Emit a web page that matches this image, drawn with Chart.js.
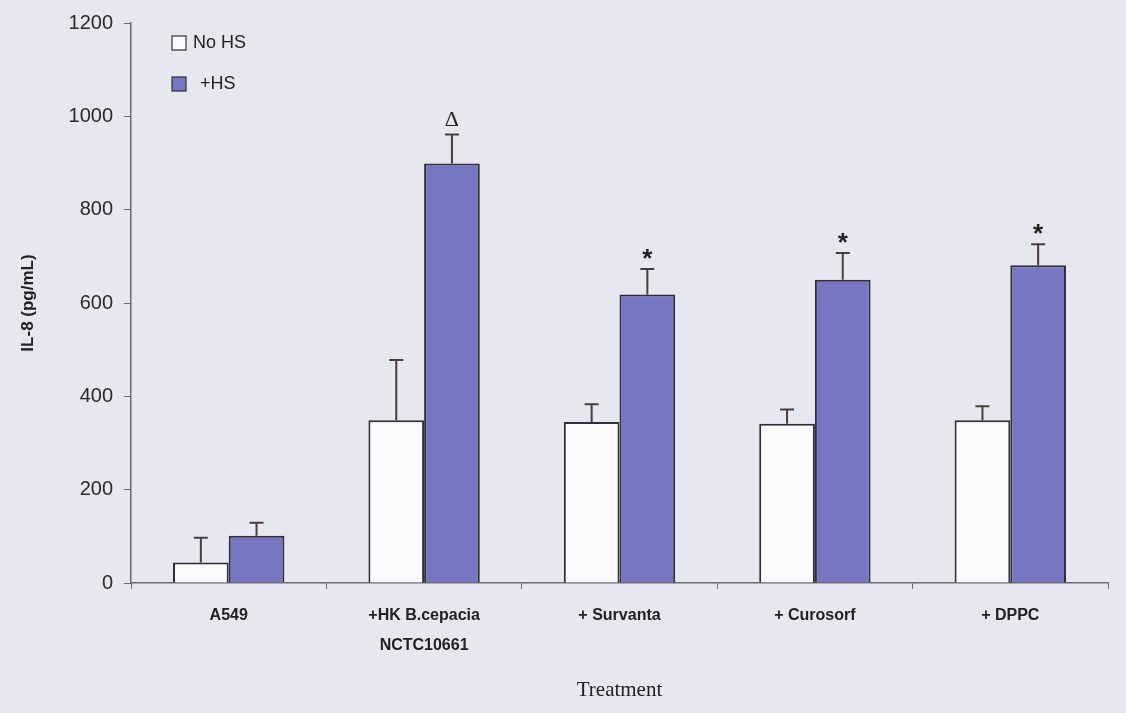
<!DOCTYPE html>
<html>
<head>
<meta charset="utf-8">
<script src="https://cdn.jsdelivr.net/npm/chart.js@4/dist/chart.umd.min.js"></script>
<style>
  html, body { margin: 0; padding: 0; background: #e7e7ef; }
  #wrap { width: 1126px; height: 713px; position: relative; }
</style>
</head>
<body>
<div id="wrap"><canvas id="il8Chart" width="1126" height="713"></canvas></div>
<script>
// --- data ---
const categories = ['A549', ['+HK B.cepacia', 'NCTC10661'], '+ Survanta', '+ Curosorf', '+ DPPC'];
const noHsValues = [44, 349, 345, 341, 349];
const noHsErrors = [53, 129, 38, 31, 30];
const hsValues = [101, 899, 618, 650, 681];
const hsErrors = [28, 62, 55, 57, 45];
const hsMarks = ['', 'Δ', '*', '*', '*'];
const yTicks = [0, 200, 400, 600, 800, 1000, 1200];

const inkColor = '#2f2f38';
const purple = '#7776c2';

// error bars (upper half only) + significance marks
const errorBarPlugin = {
    id: 'errorBars',
    afterDatasetsDraw(chart) {
        const ctx = chart.ctx;
        const yScale = chart.scales.y;
        ctx.save();
        ctx.strokeStyle = '#4a3c3c';
        ctx.lineWidth = 2;
        chart.data.datasets.forEach((ds, di) => {
            const meta = chart.getDatasetMeta(di);
            meta.data.forEach((bar, i) => {
                const top = yScale.getPixelForValue(ds.data[i] + ds.errors[i]);
                ctx.beginPath();
                ctx.moveTo(bar.x, bar.y);
                ctx.lineTo(bar.x, top);
                ctx.moveTo(bar.x - 7, top);
                ctx.lineTo(bar.x + 7, top);
                ctx.stroke();
                if (ds.marks && ds.marks[i]) {
                    ctx.fillStyle = '#222';
                    ctx.textAlign = 'center';
                    ctx.textBaseline = 'bottom';
                    if (ds.marks[i] === 'Δ') {
                        ctx.font = '22px "Liberation Serif", serif';
                        ctx.fillText(ds.marks[i], bar.x, top - 3);
                    } else {
                        ctx.font = 'bold 26px "Liberation Sans", Arial, sans-serif';
                        ctx.fillText(ds.marks[i], bar.x, top + 4);
                    }
                }
            });
        });
        ctx.restore();
    }
};

// legend in upper left corner of the plot
const cornerLegendPlugin = {
    id: 'cornerLegend',
    afterDraw(chart) {
        const ctx = chart.ctx;
        const x0 = chart.chartArea.left + 41;
        const rows = [{ y: 43 }, { y: 84 }];
        ctx.save();
        ctx.font = '18px "Liberation Sans", Arial, sans-serif';
        ctx.textBaseline = 'middle';
        ctx.textAlign = 'left';
        chart.data.datasets.forEach((ds, i) => {
            const y = rows[i].y;
            ctx.fillStyle = ds.backgroundColor;
            ctx.fillRect(x0, y - 7, 14, 14);
            ctx.strokeStyle = '#333';
            ctx.lineWidth = 1.2;
            ctx.strokeRect(x0, y - 7, 14, 14);
            ctx.fillStyle = '#222';
            ctx.fillText(ds.label, x0 + (i === 0 ? 21 : 28), y);
        });
        ctx.restore();
    }
};

const canvasBg = {
    id: 'canvasBg',
    beforeDraw(chart) {
        const ctx = chart.ctx;
        ctx.save();
        ctx.fillStyle = '#e7e7ef';
        ctx.fillRect(0, 0, chart.width, chart.height);
        ctx.restore();
    }
};

const ctx = document.getElementById('il8Chart').getContext('2d');
new Chart(ctx, {
    type: 'bar',
    data: {
        labels: categories,
        datasets: [{
            label: 'No HS',
            data: noHsValues,
            errors: noHsErrors,
            backgroundColor: '#fbfbfd',
            borderColor: inkColor,
            borderWidth: 2,
            borderSkipped: 'bottom'
        }, {
            label: '+HS',
            data: hsValues,
            errors: hsErrors,
            marks: hsMarks,
            backgroundColor: purple,
            borderColor: inkColor,
            borderWidth: 2,
            borderSkipped: 'bottom'
        }]
    },
    options: {
        responsive: false,
        animation: false,
        devicePixelRatio: 1,
        layout: { padding: { top: 11, right: 18, left: 0, bottom: 0 } },
        categoryPercentage: 0.57,
        barPercentage: 1.0,
        plugins: {
            legend: { display: false },
            tooltip: { enabled: false }
        },
        scales: {
            y: {
                min: 0,
                max: 1200,
                afterBuildTicks(scale) { scale.ticks = yTicks.map(v => ({ value: v })); },
                afterFit(scale) { scale.width = 131; },
                border: { color: '#6b6b72', width: 1.5 },
                grid: { drawOnChartArea: false, tickLength: 7, color: '#6b6b72' },
                ticks: {
                    color: '#2a2a2a',
                    padding: 11,
                    callback: v => String(v),
                    font: { family: '"Liberation Sans", Arial, sans-serif', size: 20 }
                },
                title: {
                    display: true,
                    text: 'IL-8 (pg/mL)',
                    color: '#222',
                    padding: { top: 18, bottom: 0 },
                    font: { family: '"Liberation Sans", Arial, sans-serif', size: 17, weight: 'bold' }
                }
            },
            x: {
                afterFit(scale) { scale.height = 130; },
                border: { color: '#6b6b72', width: 1.5 },
                grid: { drawOnChartArea: false, tickLength: 6, color: '#6b6b72', offset: true },
                ticks: {
                    color: '#222',
                    padding: 12,
                    maxRotation: 0,
                    font: { family: '"Liberation Sans", Arial, sans-serif', size: 16, weight: 'bold', lineHeight: 1.85 }
                },
                title: {
                    display: true,
                    text: 'Treatment',
                    color: '#222',
                    padding: { top: 0, bottom: 10 },
                    font: { family: '"Liberation Serif", "Times New Roman", serif', size: 21 }
                }
            }
        }
    },
    plugins: [canvasBg, errorBarPlugin, cornerLegendPlugin]
});
</script>
</body>
</html>
